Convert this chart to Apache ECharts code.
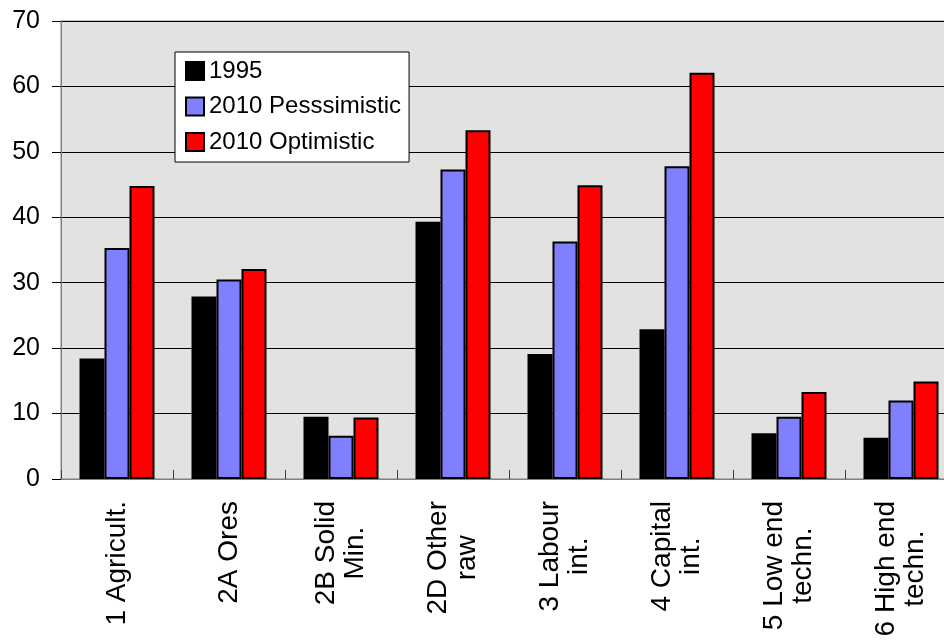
<!DOCTYPE html>
<html>
<head>
<meta charset="utf-8">
<script src="https://cdn.jsdelivr.net/npm/echarts@6/dist/echarts.min.js"></script>
<style>
  html, body { margin: 0; padding: 0; background: #ffffff; }
  #chart { width: 944px; height: 643px; }
</style>
</head>
<body>
<div id="chart"></div>
<script>
// Product groups along the horizontal axis
var categories = [
  '1 Agricult.',
  '2A Ores',
  '2B Solid\nMin.',
  '2D Other\nraw',
  '3 Labour\nint.',
  '4 Capital\nint.',
  '5 Low end\ntechn.',
  '6 High end\ntechn.'
];

var seriesNames = ['1995', '2010 Pesssimistic', '2010 Optimistic'];

var values1995 = [18.4, 27.9, 9.5, 39.3, 19.1, 22.9, 7.0, 6.3];
var values2010Pess = [35.3, 30.5, 6.6, 47.3, 36.3, 47.8, 9.5, 12.0];
var values2010Opt = [44.8, 32.1, 9.4, 53.3, 44.9, 62.1, 13.3, 14.9];

var yTicks = [0, 10, 20, 30, 40, 50, 60, 70];

var FONT = 'Arial, "Liberation Sans", sans-serif';
var colors = ['#000000', '#8080ff', '#ff0000'];

var chart = echarts.init(document.getElementById('chart'), null, { renderer: 'canvas' });

function barSeries(name, data, color) {
  return {
    name: name,
    type: 'bar',
    data: data,
    barWidth: 25,
    barGap: '0%',
    itemStyle: { color: color, borderColor: '#000000', borderWidth: 2 },
    emphasis: { disabled: true }
  };
}

chart.setOption({
  animation: false,
  backgroundColor: '#ffffff',
  textStyle: { fontFamily: FONT },
  grid: {
    left: 61,
    top: 21,
    width: 896,
    height: 458,
    outerBoundsMode: 'none',
    containLabel: false,
    show: true,
    backgroundColor: '#e2e2e2',
    borderColor: '#808080',
    borderWidth: 1
  },
  legend: {
    left: 175,
    top: 52,
    orient: 'vertical',
    backgroundColor: '#ffffff',
    borderColor: '#000000',
    borderWidth: 1,
    padding: [7, 8, 8, 10],
    itemGap: 11.5,
    itemWidth: 18,
    itemHeight: 18,
    icon: 'rect',
    selectedMode: false,
    data: seriesNames,
    textStyle: { fontFamily: FONT, fontSize: 24, color: '#000000' }
  },
  xAxis: {
    type: 'category',
    data: categories,
    axisLine: { lineStyle: { color: '#808080', width: 1 } },
    axisTick: { show: true, inside: true, length: 9, lineStyle: { color: '#404040' } },
    axisLabel: {
      interval: 0,
      rotate: 90,
      margin: 22,
      color: '#000000',
      fontFamily: FONT,
      fontSize: 28,
      formatter: function (v) {
        return v.split('\n').map(function (line) { return '{c|' + line + '}'; }).join('\n');
      },
      rich: {
        c: { align: 'center', fontFamily: FONT, fontSize: 28, lineHeight: 29, color: '#000000' }
      }
    }
  },
  yAxis: {
    type: 'value',
    min: yTicks[0],
    max: yTicks[yTicks.length - 1],
    interval: 10,
    axisLine: { show: true, lineStyle: { color: '#808080', width: 1 } },
    axisTick: { show: true, length: 9, lineStyle: { color: '#000000' } },
    axisLabel: { margin: 21, color: '#000000', fontFamily: FONT, fontSize: 25 },
    splitLine: { show: true, lineStyle: { color: '#000000', width: 1 } }
  },
  series: [
    barSeries(seriesNames[0], values1995, colors[0]),
    barSeries(seriesNames[1], values2010Pess, colors[1]),
    barSeries(seriesNames[2], values2010Opt, colors[2])
  ]
});
</script>
</body>
</html>
